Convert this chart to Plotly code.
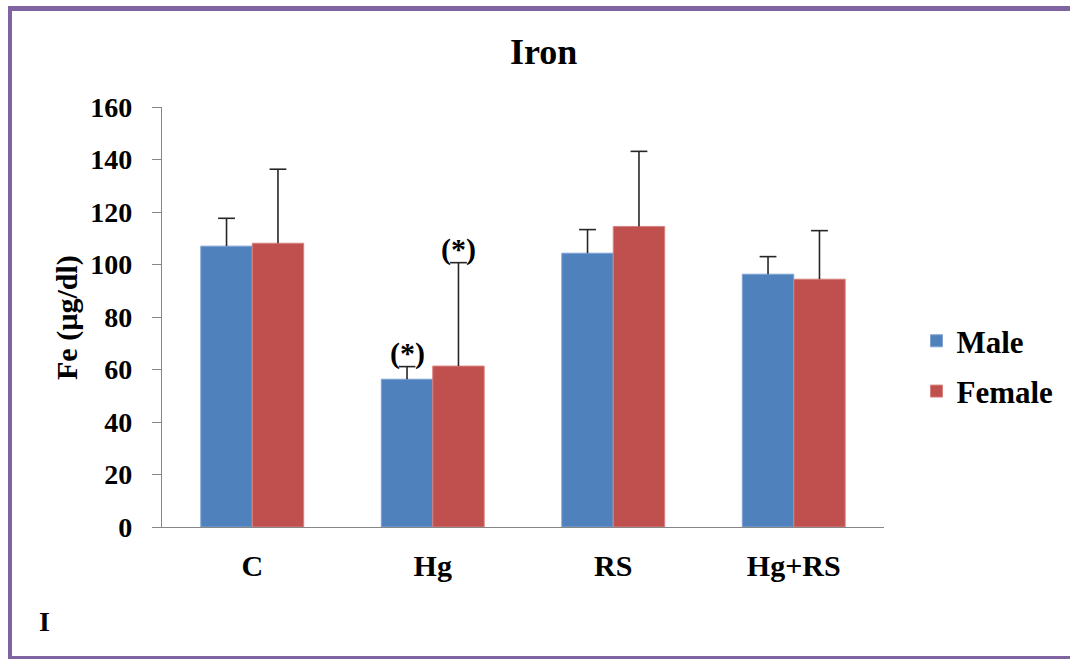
import plotly.graph_objects as go

# Serum iron by treatment group and sex
groups = ["C", "Hg", "RS", "Hg+RS"]
male_mean = [107.0, 56.3, 104.3, 96.3]
male_sd = [10.6, 4.8, 9.0, 6.7]
female_mean = [108.1, 61.3, 114.5, 94.4]
female_sd = [28.2, 39.4, 28.6, 18.5]
y_ticks = [0, 20, 40, 60, 80, 100, 120, 140, 160]

BLUE = "#4F81BD"
RED = "#C0504D"
FONT = "Liberation Serif"
ERR = "#262626"

BARGAP = 0.43
HALF = (1 - BARGAP) / 4          # offset of each bar centre from its group centre
xpos = list(range(len(groups)))

fig = go.Figure()
series = [("Male", male_mean, male_sd, BLUE, "#7EA2D2", -HALF, "m"),
          ("Female", female_mean, female_sd, RED, "#D88280", HALF, "f")]
for name, mean, sd, col, edge, off, grp in series:
    # bar with an upward-only stem (no caps)
    fig.add_trace(go.Bar(
        name=name, x=xpos, y=mean, legendgroup=grp,
        marker=dict(color=col, line=dict(color=edge, width=1)),
        error_y=dict(type="data", array=sd, arrayminus=[0] * len(mean),
                     symmetric=False, color=ERR, thickness=1.6, width=0),
    ))
    # cap at the top of each stem
    fig.add_trace(go.Scatter(
        x=[i + off for i in xpos], y=[m + s for m, s in zip(mean, sd)],
        mode="markers", showlegend=False, hoverinfo="skip",
        marker=dict(symbol="line-ew", size=12, line=dict(color=ERR, width=1.6)),
    ))

# significance marks over the Hg group
hg = groups.index("Hg")
for top, off in [(male_mean[hg] + male_sd[hg], -HALF),
                 (female_mean[hg] + female_sd[hg], HALF)]:
    fig.add_annotation(x=hg + off, y=top, xref="x", yref="y",
                       text="(*)", showarrow=False, yanchor="bottom", yshift=-5,
                       font=dict(family=FONT, size=30, color="black", weight="bold"))

# panel title, axis title and panel letter
fig.add_annotation(x=0.529, y=1.131, xref="paper", yref="paper", text="Iron",
                   showarrow=False, yanchor="middle",
                   font=dict(family=FONT, size=36, color="black", weight="bold"))
fig.add_annotation(x=-0.1316, y=0.50, xref="paper", yref="paper", text="Fe (µg/dl)",
                   showarrow=False, textangle=-90, xanchor="center", yanchor="middle",
                   font=dict(family=FONT, size=30, color="black", weight="bold"))
fig.add_annotation(x=-0.163, y=-0.226, xref="paper", yref="paper", text="I",
                   showarrow=False, xanchor="center", yanchor="middle",
                   font=dict(family=FONT, size=28, color="black", weight="bold"))

# purple frame around the panel (open on the right)
frame = "#8064A2"
fig.add_shape(type="line", xref="paper", yref="paper",
              x0=(8 - 162) / 722, x1=(1075 - 162) / 722,
              y0=(527 - 8.5) / 420, y1=(527 - 8.5) / 420,
              line=dict(color=frame, width=5))
fig.add_shape(type="line", xref="paper", yref="paper",
              x0=(10 - 162) / 722, x1=(10 - 162) / 722,
              y0=(527 - 6) / 420, y1=(527 - 660) / 420,
              line=dict(color=frame, width=4))
fig.add_shape(type="line", xref="paper", yref="paper",
              x0=(8 - 162) / 722, x1=(1075 - 162) / 722,
              y0=(527 - 657.5) / 420, y1=(527 - 657.5) / 420,
              line=dict(color=frame, width=3))

fig.update_layout(
    width=1070, height=659,
    margin=dict(l=162, r=186, t=107, b=132),
    paper_bgcolor="white", plot_bgcolor="white",
    barmode="group", bargap=BARGAP, bargroupgap=0,
    font=dict(family=FONT, size=28, color="black", weight="bold"),
    showlegend=True,
    legend=dict(x=1.045, y=0.383, xanchor="left", yanchor="middle",
                tracegroupgap=7, font=dict(family=FONT, size=31, weight="bold"),
                bgcolor="rgba(0,0,0,0)"),
)
fig.update_xaxes(range=[-0.5, len(groups) - 0.5], tickvals=xpos, ticktext=groups,
                 showline=True, linecolor="#868686", linewidth=1.3,
                 ticks="", showgrid=False, zeroline=False, ticklabelstandoff=12,
                 tickfont=dict(family=FONT, size=30, weight="bold"))
fig.update_yaxes(range=[0, 160], tickvals=y_ticks, showline=True,
                 linecolor="#868686", linewidth=1.3, ticks="outside", ticklen=9,
                 tickcolor="#868686", tickwidth=1.3, showgrid=False, zeroline=False,
                 ticklabelstandoff=14,
                 tickfont=dict(family=FONT, size=28, weight="bold"))

fig.write_html("out.html")
